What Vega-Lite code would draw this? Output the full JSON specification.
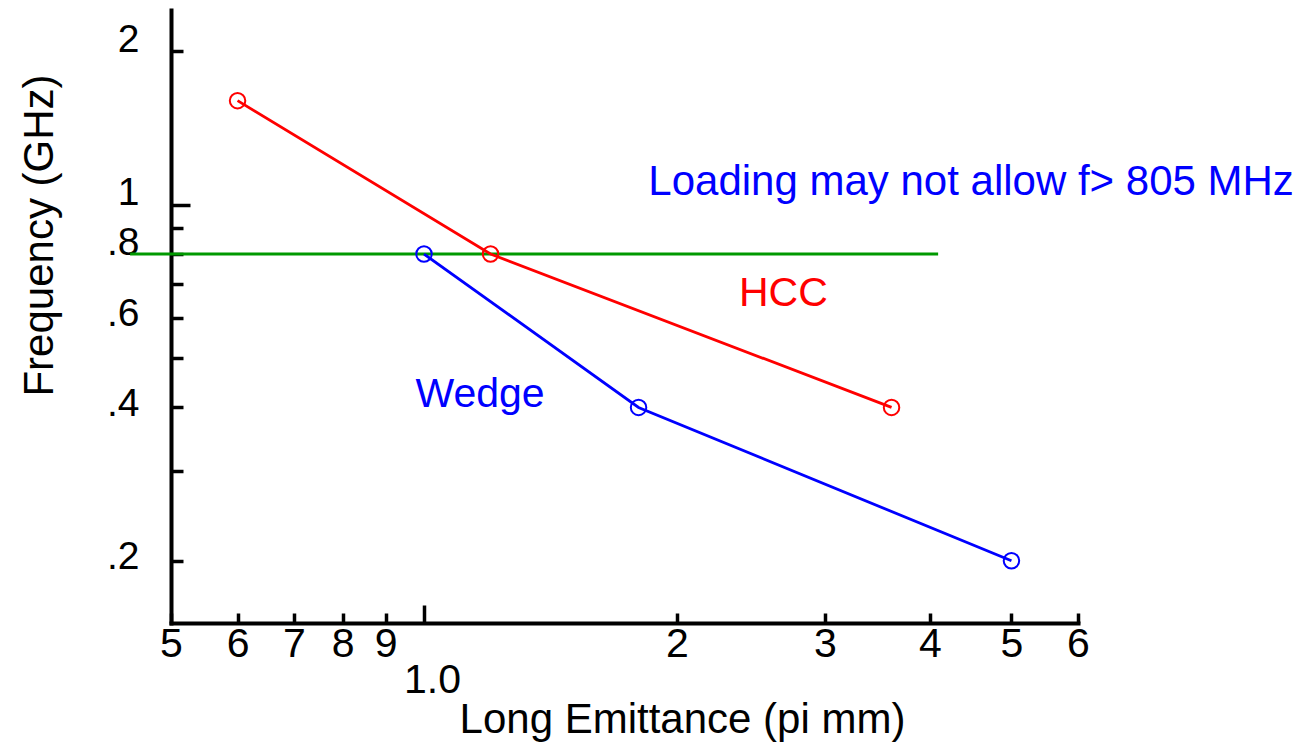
{
  "$schema": "https://vega.github.io/schema/vega-lite/v6.json",
  "width": 907,
  "height": 613,
  "autosize": {"type": "none"},
  "padding": {"left": 171, "top": 10, "right": 225, "bottom": 121},
  "background": "white",
  "config": {
    "view": {"stroke": null},
    "font": "Liberation Sans",
    "axis": {"grid": false, "labelFont": "Liberation Sans", "titleFont": "Liberation Sans", "labelColor": "black", "titleColor": "black", "titleFontWeight": "normal", "labelFlush": false, "labelOverlap": false, "labelBound": false}
  },
  "datasets": {
    "series": [
      {"emit": 0.6, "freq": 1.6, "design": "HCC"},
      {"emit": 1.2, "freq": 0.8, "design": "HCC"},
      {"emit": 3.6, "freq": 0.4, "design": "HCC"},
      {"emit": 1.0, "freq": 0.8, "design": "Wedge"},
      {"emit": 1.8, "freq": 0.4, "design": "Wedge"},
      {"emit": 5.0, "freq": 0.2, "design": "Wedge"}
    ],
    "limit": [
      {"emit": 0.447, "freq": 0.8},
      {"emit": 4.09, "freq": 0.8}
    ]
  },
  "encoding": {
    "x": {
      "field": "emit", "type": "quantitative",
      "scale": {"type": "log", "domain": [0.5, 6], "nice": false, "zero": false},
      "axis": {
        "values": [0.5, 0.6, 0.7, 0.8, 0.9, 1, 2, 3, 4, 5, 6],
        "labelExpr": "datum.value < 0.99 ? toString(round(datum.value*10)) : (datum.value < 1.01 ? '1.0' : toString(round(datum.value)))",
        "title": "Long Emittance (pi mm)",
        "domainColor": "black", "domainWidth": 4, "domainCap": "square",
        "tickColor": "black", "tickWidth": 3.5,
        "tickSize": {"condition": {"test": "datum.value == 1", "value": -18}, "value": -10},
        "labelFontSize": 41,
        "labelBaseline": "top",
        "labelAlign": "center",
        "labelPadding": {"condition": {"test": "datum.value == 1", "value": 55}, "value": 11},
        "labelOffset": {"condition": {"test": "datum.value == 1", "value": 8}, "value": 0},
        "titleFontSize": 42,
        "titleX": 511, "titleY": 109,
        "titleAlign": "center", "titleBaseline": "alphabetic"
      }
    },
    "y": {
      "field": "freq", "type": "quantitative",
      "scale": {"type": "log", "domain": [0.151, 2.41], "nice": false, "zero": false},
      "axis": {
        "values": [0.2, 0.3, 0.4, 0.5, 0.6, 0.7, 0.8, 0.9, 1, 2],
        "labelExpr": "datum.value > 0.99 ? toString(round(datum.value)) : (round(datum.value*10) % 2 == 0 ? '.' + toString(round(datum.value*10)) : '')",
        "title": "Frequency (GHz)",
        "domainColor": "black", "domainWidth": 4, "domainCap": "square",
        "tickColor": "black", "tickWidth": 3.5,
        "tickSize": {"condition": {"test": "datum.value == 1", "value": -19}, "value": -12},
        "labelFontSize": 39,
        "labelAlign": "right",
        "labelBaseline": "alphabetic",
        "labelPadding": {"condition": {"test": "datum.value == 1", "value": 51}, "value": 44},
        "labelOffset": {"condition": {"test": "datum.value < 0.7", "value": 8}, "value": 0},
        "titleFontSize": 42,
        "titleAngle": -90,
        "titleX": -119, "titleY": 225,
        "titleAlign": "center", "titleBaseline": "alphabetic"
      }
    }
  },
  "layer": [
    {
      "data": {"name": "limit"},
      "mark": {"type": "line", "color": "#009900", "strokeWidth": 3},
      "encoding": {}
    },
    {
      "data": {"name": "series"},
      "mark": {"type": "line", "strokeWidth": 2.8},
      "encoding": {
        "color": {"field": "design", "type": "nominal", "scale": {"domain": ["HCC", "Wedge"], "range": ["#ff0000", "#0000ff"]}, "legend": null}
      }
    },
    {
      "data": {"name": "series"},
      "mark": {"type": "point", "filled": false, "size": 240, "strokeWidth": 2, "opacity": 1},
      "encoding": {
        "color": {"field": "design", "type": "nominal", "scale": {"domain": ["HCC", "Wedge"], "range": ["#ff0000", "#0000ff"]}, "legend": null}
      }
    },
    {
      "data": {"values": [{"emit": 1.849, "freq": 1.044, "note": "Loading may not allow f> 805 MHz"}]},
      "mark": {"type": "text", "color": "#0000ff", "align": "left", "baseline": "alphabetic", "fontSize": 42},
      "encoding": {"text": {"field": "note"}}
    },
    {
      "data": {"values": [{"emit": 2.677, "freq": 0.632, "note": "HCC"}]},
      "mark": {"type": "text", "color": "#ff0000", "align": "center", "baseline": "alphabetic", "fontSize": 41},
      "encoding": {"text": {"field": "note"}}
    },
    {
      "data": {"values": [{"emit": 1.166, "freq": 0.4004, "note": "Wedge"}]},
      "mark": {"type": "text", "color": "#0000ff", "align": "center", "baseline": "alphabetic", "fontSize": 41},
      "encoding": {"text": {"field": "note"}}
    }
  ]
}
